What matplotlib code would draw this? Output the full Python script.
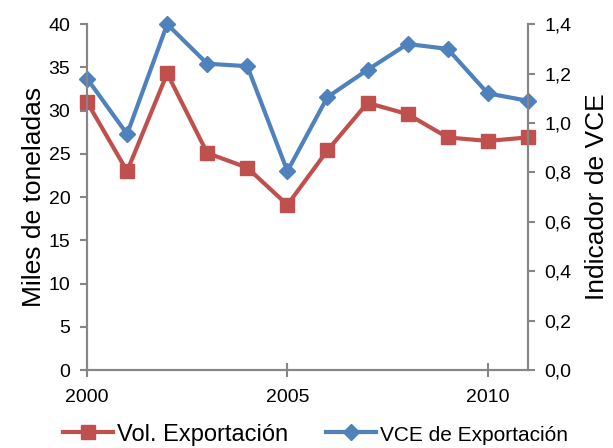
import matplotlib
matplotlib.use("Agg")
import matplotlib.pyplot as plt
from matplotlib.ticker import FuncFormatter

# data
years = [2000, 2001, 2002, 2003, 2004, 2005, 2006, 2007, 2008, 2009, 2010, 2011]
vol_export = [31.0, 23.0, 34.3, 25.1, 23.4, 19.1, 25.4, 30.9, 29.6, 26.9, 26.5, 26.9]
vce_export = [1.18, 0.955, 1.40, 1.24, 1.23, 0.805, 1.105, 1.215, 1.32, 1.30, 1.12, 1.09]
left_ticks = [0, 5, 10, 15, 20, 25, 30, 35, 40]
right_ticks = [0.0, 0.2, 0.4, 0.6, 0.8, 1.0, 1.2, 1.4]
x_ticks = [2000, 2005, 2010]

plt.rcParams['font.family'] = ['Liberation Sans', 'DejaVu Sans']
red = '#C0504D'
blue = '#4F81BD'
grey = '#868686'

fig, ax = plt.subplots(figsize=(6.13, 4.48), dpi=100)
fig.subplots_adjust(left=0.142, right=0.861, top=0.946, bottom=0.174)
ax2 = ax.twinx()

l1, = ax.plot(years, vol_export, color=red, lw=3, marker='s', ms=10,
              label='Vol. Exportación')
l2, = ax2.plot(years, vce_export, color=blue, lw=3, marker='D', ms=8,
               label='VCE de Exportación')

ax.set_xlim(2000, 2011)
ax.set_ylim(0, 40)
ax2.set_ylim(0, 1.4)
ax.set_xticks(x_ticks)
ax.set_yticks(left_ticks)
ax2.set_yticks(right_ticks)
ax2.yaxis.set_major_formatter(FuncFormatter(lambda v, p: f'{v:.1f}'.replace('.', ',')))

for a in (ax, ax2):
    for s in a.spines.values():
        s.set_color(grey)
        s.set_linewidth(1.5)
    a.spines['top'].set_visible(False)
    a.tick_params(colors=grey, labelcolor='black', labelsize=14, width=1.5,
                  length=5, pad=7)
ax.tick_params(axis='x', direction='inout', length=10, pad=9)
for ln in (l1, l2):
    ln.set_clip_on(False)

ax.set_ylabel('Miles de toneladas', fontsize=19, labelpad=2)
ax2.set_ylabel('Indicador de VCE', fontsize=19, labelpad=10)

leg = fig.legend(handles=[l1, l2], loc='center', ncol=2, frameon=False,
                 fontsize=17, bbox_to_anchor=(0.515, 0.03), handlelength=2.1,
                 handletextpad=0.2, columnspacing=1.6)
# the second legend entry is set in a narrower face in the reference
leg.get_texts()[1].set_fontsize(15)

fig.savefig('out.png', dpi=100)
